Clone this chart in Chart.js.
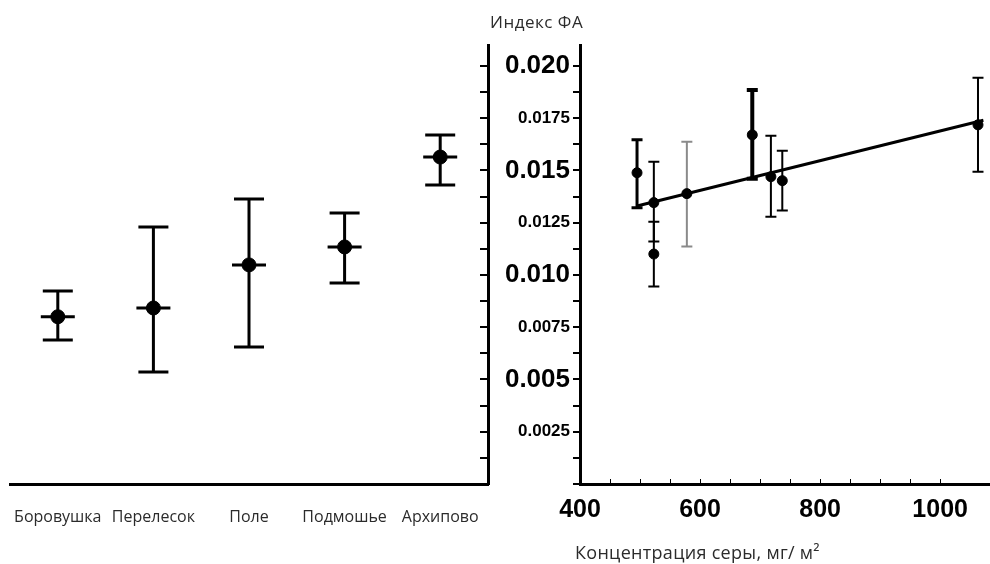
<!DOCTYPE html>
<html lang="ru">
<head>
<meta charset="utf-8">
<title>Индекс ФА</title>
<script src="https://cdn.jsdelivr.net/npm/chart.js@4.4.1/dist/chart.umd.min.js"></script>
<style>
  html, body { margin: 0; padding: 0; background: #fff; }
  #wrap { position: relative; width: 990px; height: 564px; overflow: hidden; }
  #leftChart { position: absolute; left: 0; top: 0; }
  #rightChart { position: absolute; left: 480px; top: 0; }
  .lbl { position: absolute; font-family: "Open Sans", sans-serif; line-height: 20px; color: #2b2b2b; white-space: nowrap; }
  #yTitle { left: 490px; top: 12px; font-size: 17px; letter-spacing: 0.5px; }
  #xTitle { left: 575px; top: 542px; font-size: 18px; letter-spacing: 0.3px; }
</style>
</head>
<body>
<div id="wrap">
  <canvas id="leftChart" width="500" height="564"></canvas>
  <canvas id="rightChart" width="510" height="564"></canvas>
  <div class="lbl" id="yTitle">Индекс ФА</div>
  <div class="lbl" id="xTitle">Концентрация серы, мг/ м²</div>
</div>

<script>
// ============================================================
// DATA
// ============================================================
// left panel: sites
const sites = ["Боровушка", "Перелесок", "Поле", "Подмошье", "Архипово"];
const siteFA = [0.0080, 0.00842, 0.01048, 0.01134, 0.01564];
const siteLow = [0.00689, 0.00536, 0.00655, 0.00962, 0.0143];
const siteHigh = [0.00923, 0.01229, 0.01363, 0.01296, 0.0167];

// right panel: sulfur concentration vs FA index
const sulfur = [495, 523, 523, 578, 687, 718, 737, 1063];
const sulfurFA = [0.01489, 0.01346, 0.0110, 0.01389, 0.0167, 0.0147, 0.01451, 0.01718];
const sulfurLow = [0.01322, 0.0116, 0.00945, 0.01136, 0.0146, 0.01279, 0.01308, 0.01494];
const sulfurHigh = [0.01647, 0.01542, 0.01255, 0.01637, 0.01885, 0.01666, 0.01594, 0.01943];

// regression line
const fitX = [495, 1072];
const fitY = [0.0133, 0.0174];

// tick labels
const yTickValues = [0.0025, 0.005, 0.0075, 0.010, 0.0125, 0.015, 0.0175, 0.020];
const yTickLabels = ["0.0025", "0.005", "0.0075", "0.010", "0.0125", "0.015", "0.0175", "0.020"];
const xTickValues = [400, 600, 800, 1000];

// ============================================================
// COMMON
// ============================================================
const numFont = "'Liberation Sans', Arial, sans-serif";
Chart.defaults.font.family = "'Open Sans', sans-serif";
Chart.defaults.color = "#2b2b2b";

const Y_MIN = 0, Y_MAX = 0.021, Y_STEP = 0.00125;

// vertical error bars with caps, drawn through the y scale
const errorBars = {
    id: "errorBars",
    beforeDatasetsDraw(chart) {
        const ctx = chart.ctx;
        const yScale = chart.scales.y;
        chart.data.datasets.forEach((ds, i) => {
            if (!ds.errLow) return;
            const meta = chart.getDatasetMeta(i);
            meta.data.forEach((pt, j) => {
                const top = yScale.getPixelForValue(ds.errHigh[j]);
                const bot = yScale.getPixelForValue(ds.errLow[j]);
                const half = ds.capWidth / 2;
                ctx.save();
                ctx.strokeStyle = Array.isArray(ds.errColor) ? ds.errColor[j] : ds.errColor;
                ctx.lineWidth = Array.isArray(ds.errWidth) ? ds.errWidth[j] : ds.errWidth;
                ctx.beginPath();
                ctx.moveTo(pt.x, top);
                ctx.lineTo(pt.x, bot);
                ctx.moveTo(pt.x - half, top);
                ctx.lineTo(pt.x + half, top);
                ctx.moveTo(pt.x - half, bot);
                ctx.lineTo(pt.x + half, bot);
                ctx.stroke();
                ctx.restore();
            });
        });
    }
};

// y ticks every Y_STEP, so both panels get the same tick marks
function buildYTicks(scale) {
    const t = [];
    for (let k = 0; k * Y_STEP <= Y_MAX + 1e-9; k++) {
        t.push({ value: +(k * Y_STEP).toFixed(6) });
    }
    scale.ticks = t;
}

function yLabel(v) {
    const i = yTickValues.findIndex(t => Math.abs(t - v) < 1e-7);
    return i >= 0 ? yTickLabels[i] : "";
}

// no extra side padding for first/last x labels
function fixXAxis(s) {
    s.height = 80;
    s.paddingLeft = 0;
    s.paddingRight = 0;
}

// ============================================================
// LEFT PANEL (sites)
// ============================================================
new Chart(document.getElementById("leftChart"), {
    type: "line",
    data: {
        labels: sites,
        datasets: [
            {
                data: siteFA,
                showLine: false,
                pointStyle: "line",
                pointRadius: 17,
                pointBorderWidth: 3,
                pointBorderColor: "#000"
            },
            {
                data: siteFA,
                showLine: false,
                pointStyle: "circle",
                pointRadius: 7,
                pointBackgroundColor: "#000",
                pointBorderColor: "#000",
                errLow: siteLow,
                errHigh: siteHigh,
                errWidth: 3,
                errColor: "#000",
                capWidth: 30
            }
        ]
    },
    options: {
        responsive: false,
        animation: false,
        layout: { autoPadding: false, padding: { top: 45, left: 10, right: 0, bottom: 0 } },
        plugins: { legend: { display: false }, tooltip: { enabled: false } },
        scales: {
            x: {
                offset: true,
                grid: { drawOnChartArea: false, drawTicks: false },
                border: { color: "#000", width: 3 },
                ticks: {
                    font: { size: 16 },
                    color: "#2b2b2b",
                    padding: 24,
                    maxRotation: 0,
                    autoSkip: false
                },
                afterFit: fixXAxis
            },
            y: {
                position: "right",
                min: Y_MIN,
                max: Y_MAX,
                grid: { drawOnChartArea: false, tickLength: -8, color: "#000", lineWidth: 2 },
                border: { color: "#000", width: 3 },
                ticks: { display: false },
                afterBuildTicks: buildYTicks,
                afterFit(s) { s.width = 12; }
            }
        }
    },
    plugins: [errorBars]
});

// ============================================================
// RIGHT PANEL (sulfur concentration)
// ============================================================
new Chart(document.getElementById("rightChart"), {
    type: "scatter",
    data: {
        datasets: [
            {
                type: "line",
                data: fitX.map((x, i) => ({ x: x, y: fitY[i] })),
                borderColor: "#000",
                borderWidth: 3,
                pointRadius: 0
            },
            {
                data: sulfur.map((x, i) => ({ x: x, y: sulfurFA[i] })),
                pointRadius: 5,
                pointBackgroundColor: "#000",
                pointBorderColor: "#000",
                errLow: sulfurLow,
                errHigh: sulfurHigh,
                errWidth: [3, 2, 2, 2, 4, 2, 2, 2],
                errColor: ["#000", "#000", "#000", "#8a8a8a", "#000", "#000", "#000", "#000"],
                capWidth: 11
            }
        ]
    },
    options: {
        responsive: false,
        animation: false,
        layout: { autoPadding: false, padding: { top: 45, left: 0, right: 0, bottom: 0 } },
        plugins: { legend: { display: false }, tooltip: { enabled: false } },
        scales: {
            x: {
                type: "linear",
                min: 400,
                max: 1083,
                grid: { drawOnChartArea: false, tickLength: -5, color: "#000", lineWidth: 1 },
                border: { color: "#000", width: 3 },
                ticks: {
                    stepSize: 50,
                    autoSkip: false,
                    maxRotation: 0,
                    padding: 16,
                    color: "#000",
                    font: { family: numFont, weight: "bold", size: 25 },
                    callback: v => xTickValues.includes(v) ? String(v) : ""
                },
                afterFit: fixXAxis
            },
            y: {
                position: "left",
                min: Y_MIN,
                max: Y_MAX,
                grid: { drawOnChartArea: false, tickLength: 7, color: "#000", lineWidth: 2 },
                border: { color: "#000", width: 3 },
                ticks: {
                    autoSkip: false,
                    padding: 3,
                    color: "#000",
                    callback: v => yLabel(v),
                    font: c => {
                        const lab = c.tick && c.tick.label ? c.tick.label : "";
                        return { family: numFont, weight: "bold", size: lab.length === 5 ? 26 : 17 };
                    }
                },
                afterBuildTicks: buildYTicks,
                afterFit(s) { s.width = 100; }
            }
        }
    },
    plugins: [errorBars]
});
</script>
</body>
</html>
